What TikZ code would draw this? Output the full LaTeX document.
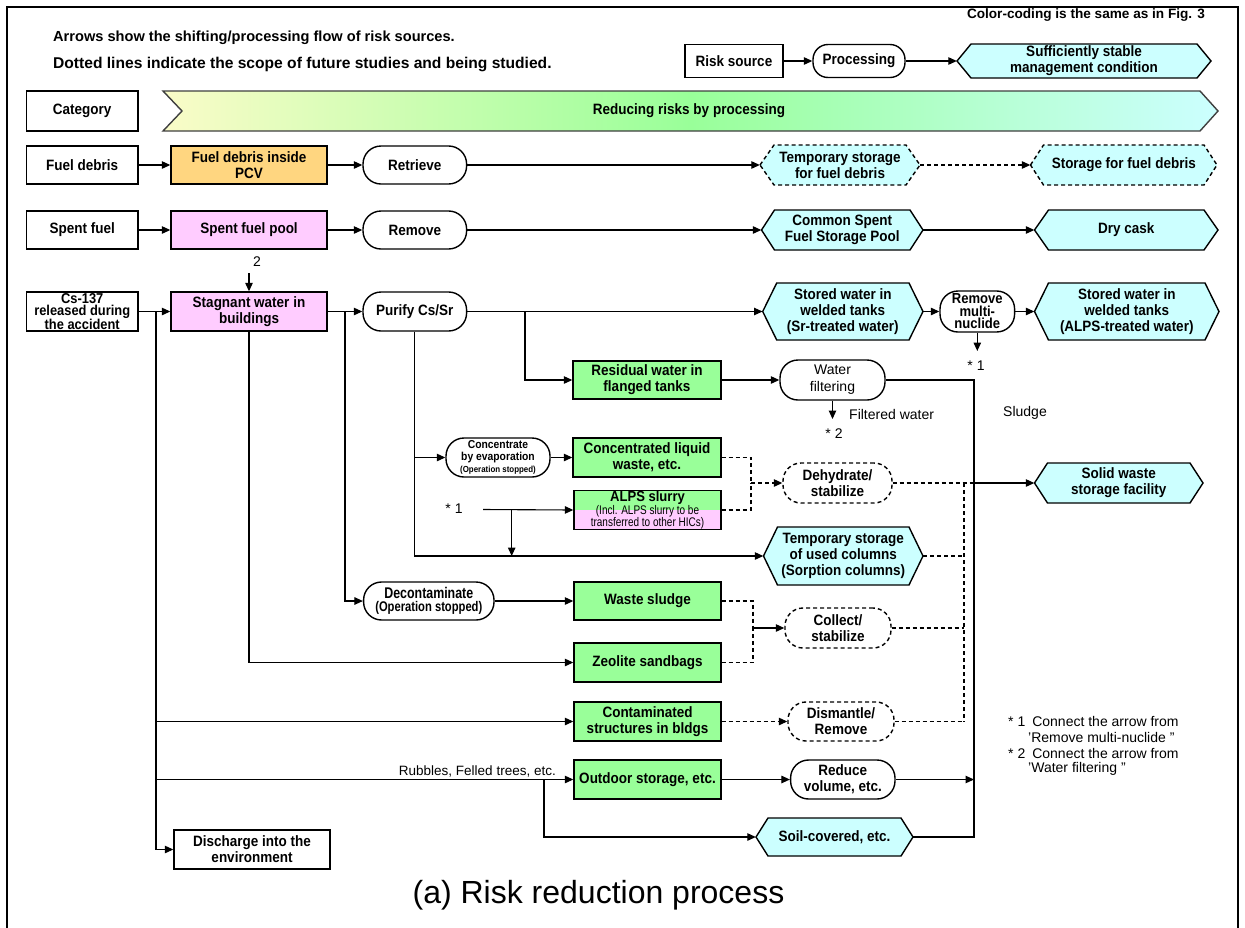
\documentclass[tikz,border=0pt]{standalone}
\usepackage{fontspec}
\setmainfont{Liberation Sans}
\newfontfamily\narrowfont{Liberation Sans}[FakeStretch=0.8]
\newfontfamily\lblfont{Liberation Sans}[FakeStretch=0.9]
\usetikzlibrary{shapes.misc,arrows.meta}

\definecolor{bxgreen}{RGB}{153,255,153}
\definecolor{bxcyan}{RGB}{204,255,255}
\definecolor{bxpink}{RGB}{255,204,255}
\definecolor{bxorange}{RGB}{255,214,128}
\definecolor{baryellow}{RGB}{250,252,200}

\newcommand\fs[2]{\fontsize{#1}{#2}\selectfont}

\tikzset{
  lbl/.style={font=\lblfont\fs{15}{16}\bfseries, align=center, inner sep=0pt, text=black},
  edgebox/.style={draw=black, line width=1.4pt},
  sq/.style={lbl, edgebox, rectangle, fill=white},
  rnd/.style={lbl, edgebox, rectangle, rounded corners=18pt, fill=white},
  sz/.style args={#1x#2}{minimum width=#1, minimum height=#2},
  conn/.style={line width=1.1pt, draw=black},
  arr/.style={conn, -{Triangle[length=8.5pt,width=7.5pt]}},
  dsh/.style={conn, dash pattern=on 4pt off 3pt},
  hexf/.style={fill=bxcyan, draw=black, line width=1.4pt},
  hexd/.style={hexf, dash pattern=on 4pt off 3pt},
  note/.style={font=\fs{14}{16}, inner sep=0pt},
}

% hexagon: options, name, x1, y1, x2, y2, indent, text
\newcommand\hexnode[8]{%
  \path[#1] ({#3},{(#4+#6)/2}) -- ({#3+#7},{#4}) -- ({#5-#7},{#4})
    -- ({#5},{(#4+#6)/2}) -- ({#5-#7},{#6}) -- ({#3+#7},{#6}) -- cycle;
  \node[lbl, minimum width={#5-#3}, minimum height={#6-#4}] (#2)
    at ({(#3+#5)/2},{(#4+#6)/2}) {#8};}

\begin{document}
\begin{tikzpicture}[x=1pt,y=-1pt]
\useasboundingbox (0,0) rectangle (1245,927);
\clip (0,0) rectangle (1245,927);
\fill[white] (0,0) rectangle (1245,927);
\draw[line width=2.5pt] (7,7) rectangle (1238,960);

% ---------- header ----------
\node[anchor=west, font=\fs{14.6}{18}\bfseries, inner sep=0pt] (h1) at (53,38)
  {Arrows show the shifting/processing flow of risk sources.};
\node[anchor=west, font=\fs{15.6}{18}\bfseries, inner sep=0pt] (h2) at (53,64)
  {Dotted lines indicate the scope of future studies and being studied.};
\node[anchor=east, font=\fs{13.6}{15}\bfseries, inner sep=0pt] (cc) at (1205,15)
  {Color-coding is the same as in Fig. 3};

% legend
\node[sq, sz=98x33] (lrs) at (734,61) {Risk source};
\node[rnd, sz=92x33, rounded corners=15pt] (lpr) at (859,61) {Processing};
\hexnode{hexf}{lhx}{957}{44}{1211}{78}{14}{Sufficiently stable\\management condition}
\draw[arr] (lrs.east) -- (lpr.west);
\draw[arr] (lpr.east) -- (lhx.west);

% category row
\node[sq, sz=111.5x40] (cat) at (82.25,111) {Category};
\path[left color=baryellow, right color=bxcyan, middle color=bxgreen,
      draw=black!75, line width=1.4pt]
  (163,91) -- (1200,91) -- (1218,111) -- (1200,131) -- (163,131) -- (182,111) -- cycle;
\node[lbl] (bar) at (689,111) {Reducing risks by processing};

% ---------- fuel debris ----------
\node[sq, sz=111.5x38] (fd) at (82.25,165) {Fuel debris};
\node[sq, sz=156x38, fill=bxorange] (pcv) at (249,165) {Fuel debris inside\\PCV};
\node[rnd, sz=103.6x38] (ret) at (414.8,165) {Retrieve};
\hexnode{hexd}{tsf}{760}{145}{920}{185}{14}{Temporary storage\\for fuel debris}
\hexnode{hexd}{sfd}{1030.5}{145}{1217}{185}{13}{Storage for fuel debris}
\draw[arr] (fd.east) -- (pcv.west);
\draw[arr] (pcv.east) -- (ret.west);
\draw[arr] (ret.east) -- (tsf.west);
\draw[arr, dash pattern=on 4pt off 3pt] (tsf.east) -- (sfd.west);

% ---------- spent fuel ----------
\node[sq, sz=111.5x38] (sf) at (82.25,230) {Spent fuel};
\node[sq, sz=156x38, fill=bxpink] (sfp) at (249,230) {Spent fuel pool};
\node[rnd, sz=103.6x38] (rem) at (414.8,230) {Remove};
\hexnode{hexf}{csp}{761.5}{210}{923}{250}{13}{Common Spent\\Fuel Storage Pool}
\hexnode{hexf}{dry}{1034.5}{210}{1218}{250}{14}{Dry cask}
\draw[arr] (sf.east) -- (sfp.west);
\draw[arr] (sfp.east) -- (rem.west);
\draw[arr] (rem.east) -- (csp.west);
\draw[arr] (csp.east) -- (dry.west);

% ---------- contaminated water ----------
\node[sq, sz=111.5x39, font=\lblfont\fs{14.3}{12}\bfseries] (cs) at (82.25,311.5)
  {Cs-137\\released during\\the accident};
\node[sq, sz=156x39, fill=bxpink] (stag) at (249,311.5) {Stagnant water in\\buildings};
\node[rnd, sz=103.6x39] (pur) at (414.8,311.5) {Purify Cs/Sr};
\hexnode{hexf}{swsr}{762.7}{283}{923}{340}{14}{Stored water in\\welded tanks\\(Sr-treated water)}
\node[rnd, sz=74.6x41, font=\lblfont\fs{14.5}{12.5}\bfseries] (rmn) at (977.3,311.5)
  {Remove\\multi-\\nuclide};
\hexnode{hexf}{swal}{1034.5}{283}{1219}{340}{14}{Stored water in\\welded tanks\\(ALPS-treated water)}

\node[note] (two) at (257,262) {2};
\coordinate (twoA) at (249,273);
\draw[arr] (twoA) -- (stag.north);

\draw[arr] (cs.east) -- (stag.west);
\draw[arr] (stag.east) -- (pur.west);
\draw[arr] (pur.east) -- (swsr.west);
\draw[arr] (swsr.east) -- (rmn.west);
\draw[arr] (rmn.east) -- (swal.west);
\coordinate (rmnD) at (977.3,351);
\draw[arr] (rmn.south) -- (rmnD);
\node[note] (st1a) at (976,366) {* 1};

% residual water / filtering
\node[sq, sz=148x38, fill=bxgreen] (res) at (647,380) {Residual water in\\flanged tanks};
\node[rnd, sz=105x40, font=\fs{14}{17}] (wf) at (832.5,380) {Water\\filtering};
\coordinate (jR) at (525,311.5);
\draw[arr] (jR) |- (res.west);
\draw[arr] (res.east) -- (wf.west);
\coordinate (fwD) at (832.5,419);
\draw[arr] (wf.south) -- (fwD);
\node[note, anchor=west] (fwl) at (849,414) {Filtered water};
\node[note] (st2a) at (834,434) {* 2};
\node[note] (sld) at (1025,413) {Sludge};

% evaporation, ALPS slurry
\node[rnd, sz=104x39, font=\lblfont\fs{11.5}{12}\bfseries] (conc) at (498,457.5)
  {Concentrate\\by evaporation\\{\fs{8.8}{12}(Operation stopped)}};
\node[sq, sz=148x39, fill=bxgreen] (cliq) at (647,457.5) {Concentrated liquid\\waste, etc.};
\node[rnd, sz=109x40, dash pattern=on 4pt off 3pt] (dh) at (837.5,483) {Dehydrate/\\stabilize};
\hexnode{hexf}{sws}{1034.5}{463}{1203}{503}{13}{Solid waste\\storage facility}

\fill[bxgreen] (574,490) rectangle (721,509.5);
\fill[bxpink] (574,509.5) rectangle (721,529);
\node[lbl, edgebox, sz=147x39, font=\narrowfont\fs{12.5}{10.8}] (alps) at (647.5,510)
  {{\lblfont\bfseries\fs{14.5}{10.8}ALPS slurry}\\(Incl. ALPS slurry to be\\transferred to other HICs)};
\node[note] (st1b) at (454,509) {* 1};

\hexnode{hexf}{tcol}{763.5}{527}{923}{585}{14}{Temporary storage\\of used columns\\(Sorption columns)}

\draw[arr] (pur.south) |- (conc.west);
\draw[arr] (pur.south) |- (tcol.west);
\draw[arr] (conc.east) -- (cliq.west);
\coordinate (s1) at (483,509.5);
\coordinate (s1b) at (511.7,509.5);
\draw[arr] (s1) -- (alps.west);
\draw[arr] (s1b) -- (s1b |- tcol.west);

\coordinate (jD) at (751,483);
\draw[dsh] (cliq.east) -| (jD);
\draw[dsh] (alps.east) -| (jD);
\draw[arr, dash pattern=on 4pt off 3pt] (jD) -- (dh.west);

% decontamination, sludge, zeolite
\node[rnd, sz=130.4x38, font=\narrowfont\fs{15.5}{12.5}\bfseries] (dec) at (428.8,601)
  {Decontaminate\\{\fs{14}{12.5}(Operation stopped)}};
\node[sq, sz=147x38, fill=bxgreen] (wsl) at (647.5,601) {Waste sludge};
\node[rnd, sz=106x40, dash pattern=on 4pt off 3pt] (col) at (838,628) {Collect/\\stabilize};
\node[sq, sz=147x39, fill=bxgreen] (zeo) at (647.5,662.5) {Zeolite sandbags};

\coordinate (jS) at (345,311.5);
\draw[arr] (jS) |- (dec.west);
\draw[arr] (dec.east) -- (wsl.west);
\draw[arr] (stag.south) |- (zeo.west);
\coordinate (jW) at (753,628);
\draw[dsh] (wsl.east) -| (jW);
\draw[dsh] (zeo.east) -| (jW);
\draw[arr] (jW) -- (col.west);

% structures, rubble, soil
\node[sq, sz=147x39, fill=bxgreen] (con) at (647.5,721.5) {Contaminated\\structures in bldgs};
\node[rnd, sz=106x39, dash pattern=on 4pt off 3pt] (dis) at (841,721.5) {Dismantle/\\Remove};
\node[sq, sz=147x39, fill=bxgreen] (outd) at (647.5,779.5) {Outdoor storage, etc.};
\node[rnd, sz=104.4x39] (red) at (842.8,779.5) {Reduce\\volume, etc.};
\hexnode{hexf}{soil}{756}{818}{913}{856}{12}{Soil-covered, etc.}
\node[sq, sz=156x39] (disc) at (252,849.5) {Discharge into the\\environment};
\node[note, anchor=east, font=\fs{13.5}{16}] (rub) at (556,771) {Rubbles, Felled trees, etc.};

\coordinate (jC) at (156,311.5);
\draw[arr] (jC) |- (disc.west);
\draw[arr] (jC) |- (con.west);
\draw[arr] (jC) |- (outd.west);
\coordinate (jO) at (544,779.5);
\draw[arr] (jO) |- (soil.west);
\draw[arr, dash pattern=on 4pt off 3pt] (con.east) -- (dis.west);
\draw[arr] (outd.east) -- (red.west);

% collecting lines on the right
\coordinate (vTop) at (974,380);
\coordinate (vSw) at (974,483);
\coordinate (vRd) at (974,779.5);
\draw[conn] (wf.east) -- (vTop) -- (vTop |- soil.east) -- (soil.east);
\draw[arr] (red.east) -- (vRd);
\draw[dsh] (dh.east) -- (vSw);
\draw[arr] (vSw) -- (sws.west);
\coordinate (dTop) at (964,483);
\coordinate (dBot) at (964,721.5);
\draw[dsh] (dTop) -- (dBot);
\draw[dsh] (tcol.east) -- (tcol.east -| dTop);
\draw[dsh] (col.east) -- (col.east -| dTop);
\draw[dsh] (dis.east) -- (dBot);

% footnotes
\node[note, anchor=west] (fn1) at (1008,721) {* 1\enspace Connect the arrow from};
\node[note, anchor=west] (fn1b) at (1028,737) {'Remove multi-nuclide "};
\node[note, anchor=west] (fn2) at (1008,753) {* 2\enspace Connect the arrow from};
\node[note, anchor=west] (fn2b) at (1028,769) {'Water filtering "};

% caption
\node[font=\fs{32}{36}, inner sep=0pt] (cap) at (598.5,895) {(a) Risk reduction process};
\end{tikzpicture}
\end{document}
